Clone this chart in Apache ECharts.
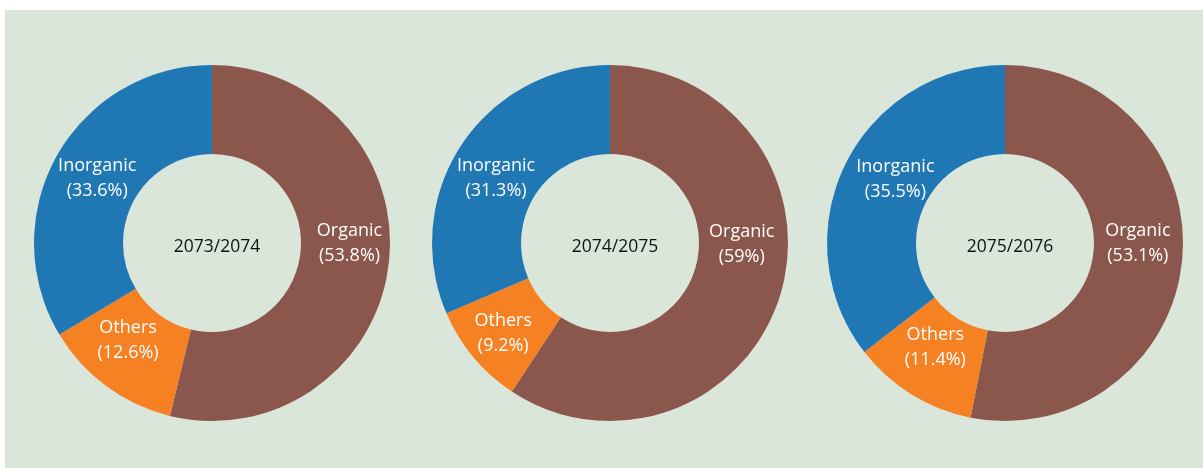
<!DOCTYPE html>
<html>
<head>
<meta charset="utf-8">
<script src="https://cdn.jsdelivr.net/npm/echarts@6/dist/echarts.min.js"></script>
<style>
    html, body { margin: 0; padding: 0; background: #ffffff; }
    #main { width: 1203px; height: 468px; }
</style>
</head>
<body>
<div id="main"></div>
<script>
// 数据
var categories = ['Organic', 'Others', 'Inorganic'];
var years = ['2073/2074', '2074/2075', '2075/2076'];
var organic = [53.8, 59, 53.1];
var others = [12.6, 9.2, 11.4];
var inorganic = [33.6, 31.3, 35.5];

// 标签微调 (Organic, Others, Inorganic)
var labelOffsets = [
    [[2, -16], [-3, -13], [4, 3]],
    [[1, -38], [-2, 3], [0, 10]],
    [[-3, -13], [2, -12], [13, -4]]
];

var centersX = [212, 610, 1005];
var centerY = 243;

function buildSeries(i) {
    var vals = [organic[i], others[i], inorganic[i]];
    return {
        type: 'pie',
        center: [centersX[i], centerY],
        radius: [89, 178],
        startAngle: 90,
        clockwise: true,
        silent: true,
        label: {
            show: true,
            position: 'inside',
            color: '#ffffff',
            fontFamily: 'Open Sans',
            fontSize: 18,
            lineHeight: 25,
            formatter: function (p) {
                return p.name + '\n(' + p.value + '%)';
            }
        },
        labelLine: { show: false },
        itemStyle: { borderWidth: 0 },
        data: categories.map(function (c, k) {
            return {
                name: c,
                value: vals[k],
                label: { offset: labelOffsets[i][k] }
            };
        })
    };
}

function drawDonuts(divId) {
    var myChart = echarts.init(document.getElementById(divId));
    var option = {
        animation: false,
        color: ['#8b564b', '#f58123', '#1f77b4'],
        graphic: [{
            type: 'rect',
            z: -10,
            shape: { x: 5, y: 10, width: 1198, height: 458 },
            style: { fill: '#dae6da' }
        }],
        title: years.map(function (y, i) {
            return {
                text: y,
                left: centersX[i],
                top: centerY - 1,
                textAlign: 'center',
                textVerticalAlign: 'middle',
                textStyle: {
                    color: '#111111',
                    fontFamily: 'Open Sans',
                    fontSize: 17.5,
                    fontWeight: 'normal'
                }
            };
        }),
        series: [buildSeries(0), buildSeries(1), buildSeries(2)]
    };
    myChart.clear();
    myChart.setOption(option);
    return myChart;
}

drawDonuts('main');
</script>
</body>
</html>
